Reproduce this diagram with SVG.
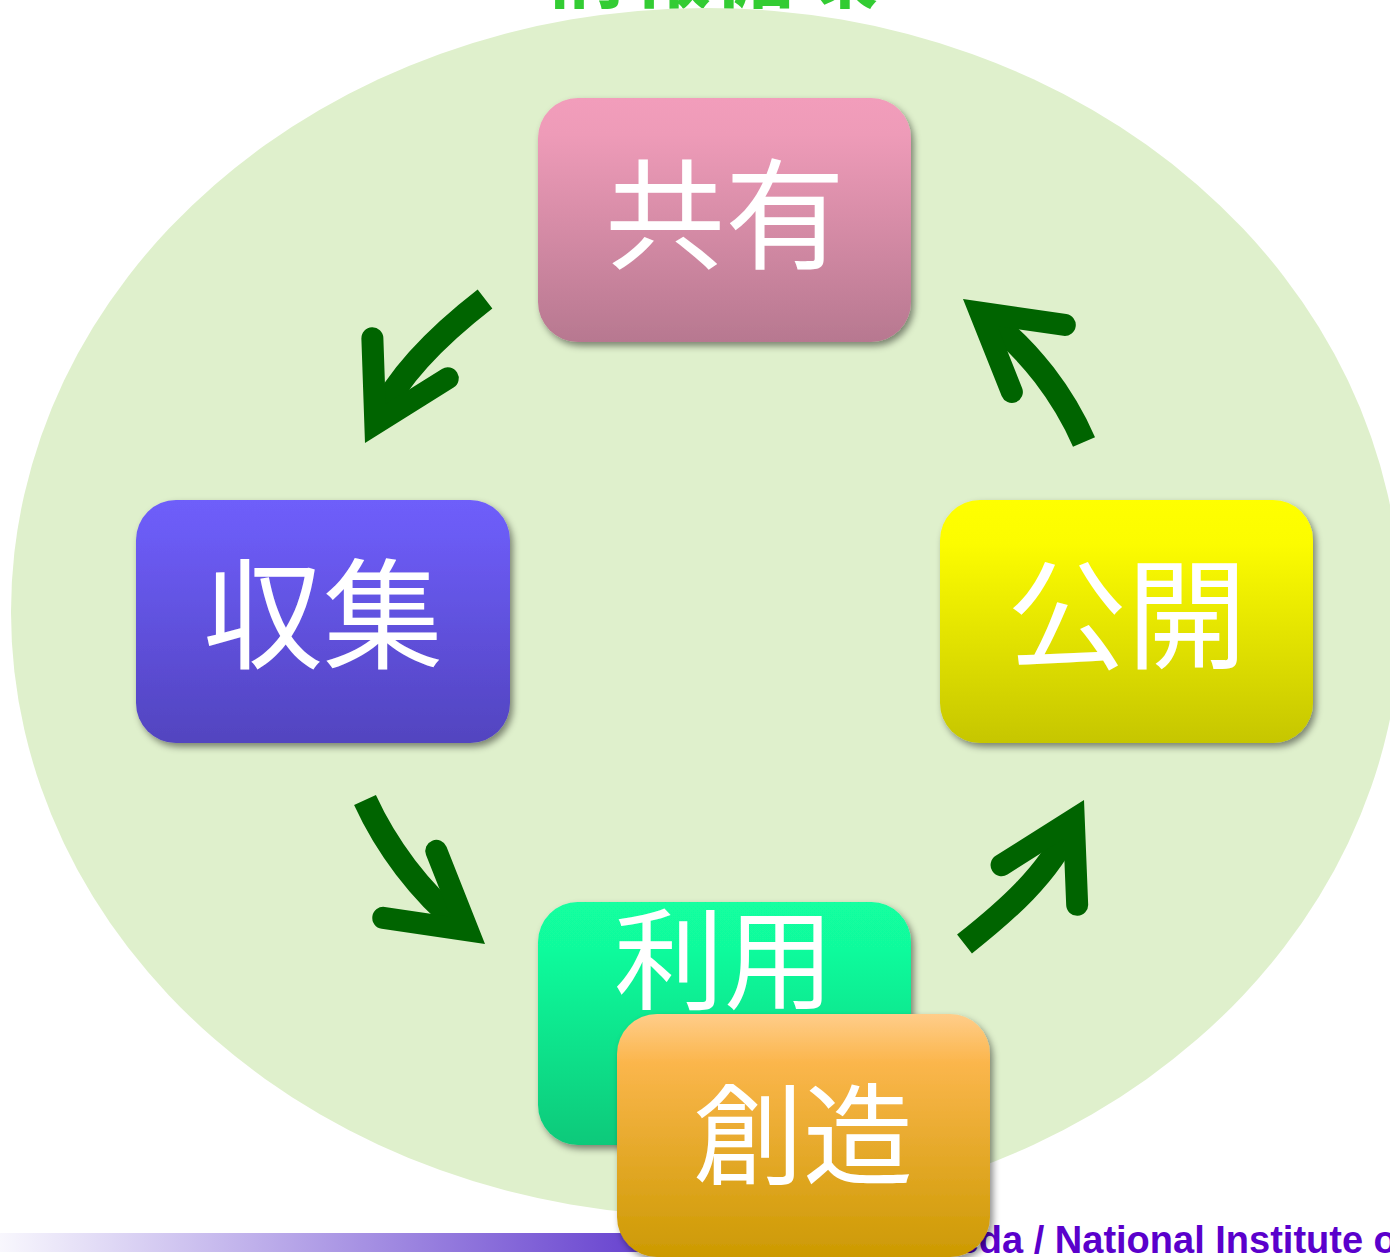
<svg xmlns="http://www.w3.org/2000/svg" width="1390" height="1257" viewBox="0 0 1390 1257">
<defs>
  <linearGradient id="gPink" x1="0" y1="0" x2="0" y2="1">
    <stop offset="0" stop-color="#f29dbb"/><stop offset="0.15" stop-color="#ee9bb8"/><stop offset="1" stop-color="#b77890"/>
  </linearGradient>
  <linearGradient id="gBlue" x1="0" y1="0" x2="0" y2="1">
    <stop offset="0" stop-color="#6e5efa"/><stop offset="0.15" stop-color="#6b5bf4"/><stop offset="1" stop-color="#5244bf"/>
  </linearGradient>
  <linearGradient id="gYellow" x1="0" y1="0" x2="0" y2="1">
    <stop offset="0" stop-color="#ffff00"/><stop offset="0.18" stop-color="#fcfc00"/><stop offset="1" stop-color="#c6c600"/>
  </linearGradient>
  <linearGradient id="gGreen" x1="0" y1="0" x2="0" y2="1">
    <stop offset="0" stop-color="#12ffa0"/><stop offset="0.2" stop-color="#11fb9c"/><stop offset="1" stop-color="#0fc97a"/>
  </linearGradient>
  <linearGradient id="gOrange" x1="0" y1="0" x2="0" y2="1">
    <stop offset="0" stop-color="#ffcd8a"/><stop offset="0.2" stop-color="#fbb64c"/><stop offset="1" stop-color="#cc9a02"/>
  </linearGradient>
  <linearGradient id="gBar" x1="0" y1="0" x2="1" y2="0">
    <stop offset="0" stop-color="#f8f7fd"/><stop offset="0.9" stop-color="#6a46d0"/><stop offset="1" stop-color="#6440cc"/>
  </linearGradient>
  <filter id="sh" x="-10%" y="-10%" width="130%" height="130%">
    <feDropShadow dx="3" dy="4" stdDeviation="3.5" flood-color="#000" flood-opacity="0.45"/>
  </filter>
  <path id="head" d="M -96 -42.7 L -22 0 L -96 42.7" fill="none" stroke="#006400" stroke-width="22" stroke-linecap="round" stroke-linejoin="miter"/>
</defs>
<style>
  .lbl{font-family:"Noto Sans CJK JP","Noto Sans CJK SC",sans-serif;font-size:120px;fill:#ffffff;text-anchor:middle}
  .lbl2{font-size:110px}
  .shaft{fill:none;stroke:#006400;stroke-width:24;stroke-linecap:butt}
  .box{filter:url(#sh)}
</style>
<rect width="1390" height="1257" fill="#ffffff"/>
<g id="title">
  <text x="711" y="0.5" font-family="'Noto Sans CJK JP','Noto Sans CJK SC',sans-serif" font-size="84" font-weight="bold" fill="#33cc33" text-anchor="middle">情報循環</text>
</g>
<ellipse id="background" cx="706" cy="612" rx="695" ry="604" fill="#dff0cc"/>
<g id="connectors">
  <g id="arrow-share-collect">
    <path class="shaft" d="M 485 299 C 445 330 400 372 379 416.5"/>
    <use href="#head" transform="translate(365 443) rotate(118)"/>
  </g>
  <g id="arrow-publish-share">
    <path class="shaft" d="M 1084 442 C 1064 396 1030 350 986.5 317.6"/>
    <use href="#head" transform="translate(963 299) rotate(218.3)"/>
  </g>
  <g id="arrow-collect-use">
    <path class="shaft" d="M 365 800 C 386 846 420 892 461.5 925.4"/>
    <use href="#head" transform="translate(485 944) rotate(38.4)"/>
  </g>
  <g id="arrow-use-publish">
    <path class="shaft" d="M 964.5 944 C 1005 912 1049 874 1070 826.6"/>
    <use href="#head" transform="translate(1084 800) rotate(-62.3)"/>
  </g>
</g>
<g id="node-share">
  <rect class="box" x="538" y="98" width="373" height="244" rx="40" fill="url(#gPink)"/>
  <text class="lbl" x="725" y="260">共有</text>
</g>
<g id="node-collect">
  <rect class="box" x="136" y="500" width="374" height="243" rx="40" fill="url(#gBlue)"/>
  <text class="lbl" x="323" y="660">収集</text>
</g>
<g id="node-publish">
  <rect class="box" x="940" y="500" width="373" height="243" rx="40" fill="url(#gYellow)"/>
  <text class="lbl" x="1127" y="660">公開</text>
</g>
<g id="node-use">
  <rect class="box" x="538" y="902" width="373" height="243" rx="40" fill="url(#gGreen)"/>
  <text class="lbl lbl2" x="724" y="1001">利用</text>
</g>
<g id="footer">
  <rect x="0" y="1233" width="700" height="19" fill="url(#gBar)"/>
  <text x="895" y="1253" font-family="'Liberation Sans',Arial,sans-serif" font-size="38" font-weight="bold" fill="#5a00cc">Takeda / National Institute of Informatics</text>
</g>
<g id="node-create">
  <rect class="box" x="617" y="1014" width="373" height="243" rx="40" fill="url(#gOrange)"/>
  <text class="lbl lbl2" x="803" y="1176">創造</text>
</g>
</svg>
